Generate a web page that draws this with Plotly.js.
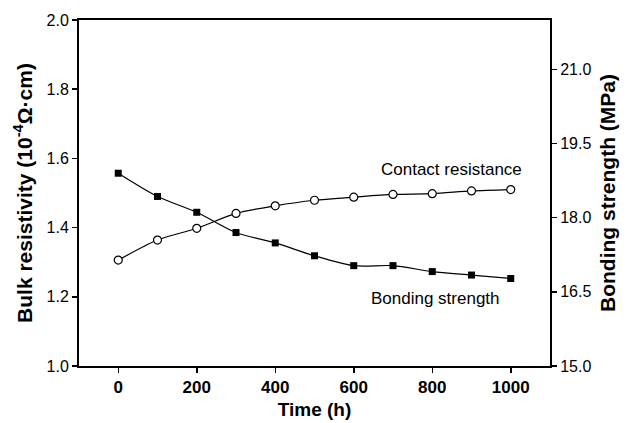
<!DOCTYPE html>
<html><head><meta charset="utf-8">
<script src="https://cdn.plot.ly/plotly-3.0.1.min.js"></script>
<style>body{margin:0;background:#fff}#c{width:628px;height:423px}</style>
</head><body><div id="c"></div>
<script>
const timeH = [0,100,200,300,400,500,600,700,800,900,1000];
const contactResistance = [1.306,1.364,1.398,1.441,1.463,1.479,1.488,1.496,1.498,1.506,1.510];
const bondingStrength = [18.90,18.43,18.11,17.70,17.49,17.23,17.03,17.03,16.91,16.84,16.77];
const leftTicks = [1.0,1.2,1.4,1.6,1.8,2.0];
const rightTicks = [15.0,16.5,18.0,19.5,21.0];
const xTicks = [0,200,400,600,800,1000];

const F = 'Arial, "Liberation Sans", sans-serif';
const traces = [
  {x: timeH, y: bondingStrength, yaxis: 'y2', mode: 'lines+markers', name: 'Bonding strength',
   line: {color: '#000', width: 1.2, shape: 'spline', smoothing: 0.8},
   marker: {symbol: 'square', size: 7, color: '#000'}},
  {x: timeH, y: contactResistance, yaxis: 'y', mode: 'lines+markers', name: 'Contact resistance',
   line: {color: '#000', width: 1.2, shape: 'spline', smoothing: 0.8},
   marker: {symbol: 'circle', size: 8, color: '#fff', line: {width: 1.2, color:'#000'}}}
];
const layout = {
  width: 628, height: 423,
  margin: {l: 79, r: 78, t: 20, b: 57},
  paper_bgcolor: '#fff', plot_bgcolor: '#fff',
  showlegend: false,
  font: {family: F, color: '#000', size: 16},
  xaxis: {range: [-100, 1100], tickvals: xTicks, ticktext: xTicks.map(String),
    ticks: 'outside', ticklen: 5, tickwidth: 1.5, tickcolor: '#000',
    showline: true, linewidth: 2, linecolor: '#000', mirror: true, showgrid: false, zeroline: false,
    tickfont: {family: F, size: 17, weight: 'bold'},
    title: {text: '<b>Time (h)</b>', font: {family: F, size: 19}, standoff: 6}},
  yaxis: {range: [1.0, 2.0], tickvals: leftTicks, ticktext: leftTicks.map(v => v.toFixed(1)),
    ticks: 'outside', ticklen: 5, tickwidth: 1.5, tickcolor: '#000',
    showline: true, linewidth: 2, linecolor: '#000', showgrid: false, zeroline: false,
    tickfont: {family: F, size: 16},
    title: {text: '<b>Bulk resistivity (10<sup>-4</sup>Ω·cm)</b>', font: {family: F, size: 21}, standoff: 8}},
  yaxis2: {range: [15.0, 22.0], overlaying: 'y', side: 'right', tickvals: rightTicks,
    ticktext: rightTicks.map(v => v.toFixed(1)),
    ticks: 'outside', ticklen: 5, tickwidth: 1.5, tickcolor: '#000',
    showline: true, linewidth: 2, linecolor: '#000', showgrid: false, zeroline: false,
    tickfont: {family: F, size: 16},
    title: {text: '<b>Bonding strength (MPa)</b>', font: {family: F, size: 21}, standoff: 10}},
  annotations: [
    {x: 1000, y: 1.5, xref: 'x', yref: 'y', text: 'Contact resistance', showarrow: false,
     xanchor: 'right', yanchor: 'bottom', xshift: 13, yshift: 12, font: {family: F, size: 17}},
    {x: 1000, y: 16.77, xref: 'x', yref: 'y2', text: 'Bonding strength', showarrow: false,
     xanchor: 'right', yanchor: 'top', xshift: -9, yshift: -8, font: {family: F, size: 17}}
  ]
};
Plotly.newPlot('c', traces, layout, {displayModeBar: false, staticPlot: true});
</script></body></html>
